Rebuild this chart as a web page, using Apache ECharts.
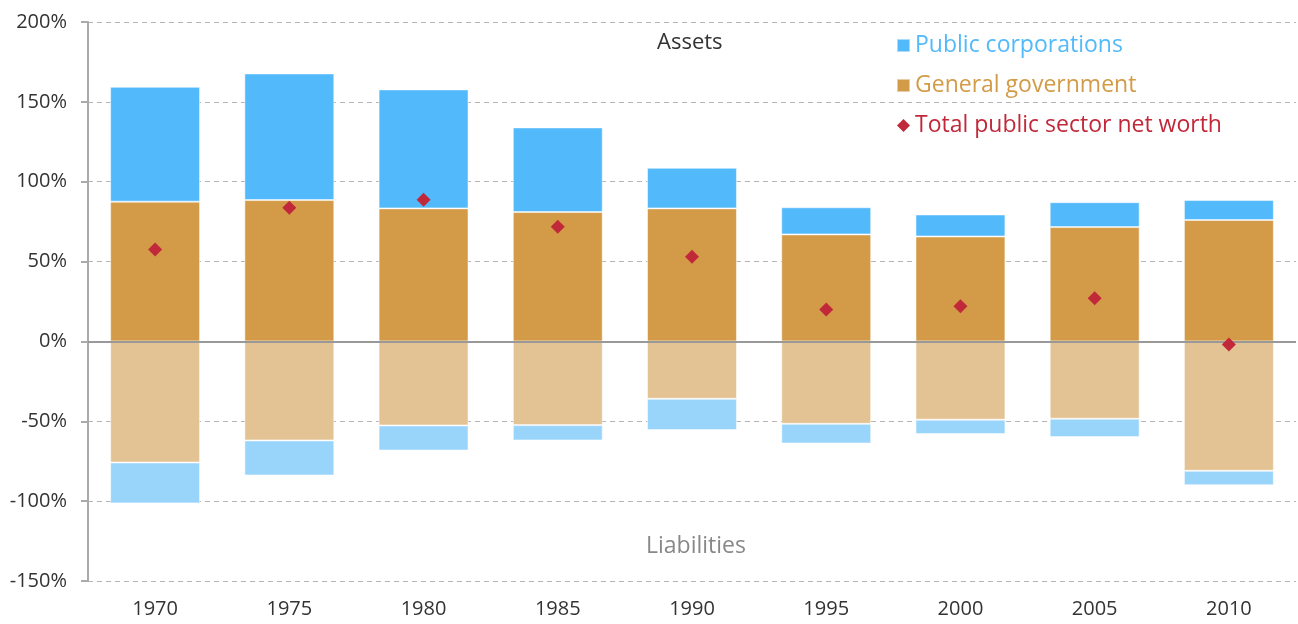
<!DOCTYPE html>
<html>
<head>
<meta charset="utf-8">
<script src="https://cdn.jsdelivr.net/npm/echarts@6/dist/echarts.min.js"></script>
<style>
    html, body { margin: 0; padding: 0; background: #fff; }
    #main { width: 1298px; height: 624px; }
</style>
</head>
<body>
<div id="main"></div>
<script>
    // years on the x axis
    const years = ['1970', '1975', '1980', '1985', '1990', '1995', '2000', '2005', '2010'];

    // assets, % of GDP (stacked upward)
    const govAssets = [87.5, 88.5, 83.3, 81, 83.3, 67, 65.7, 71.6, 76];
    const pubAssets = [71.9, 79.3, 74.5, 53, 25.4, 17, 13.8, 15.6, 12.5];

    // liabilities, % of GDP (stacked downward)
    const govLiab = [-75.8, -62, -52.6, -52.4, -35.9, -51.6, -49, -48.4, -81];
    const pubLiab = [-25.6, -21.9, -15.7, -9.6, -19.6, -12.3, -9, -11.5, -9];

    // total public sector net worth
    const netWorth = [57.6, 83.7, 88.7, 71.8, 53, 20, 22, 27, -1.9];

    const yTicks = { min: -150, max: 200, interval: 50 };

    const font = '"Open Sans", sans-serif';
    const colors = {
        pub: '#52B9FB',
        gov: '#D39B48',
        govLiab: '#E3C393',
        pubLiab: '#99D5FB',
        net: '#C1293A'
    };

    const chart = echarts.init(document.getElementById('main'));

    const barStyle = (c) => ({ color: c, borderColor: 'rgba(255,255,255,0.5)', borderWidth: 1 });

    const option = {
        animation: false,
        textStyle: { fontFamily: font },
        grid: { left: 88, right: 2, top: 22, bottom: 43 },
        legend: {
            orient: 'vertical',
            left: 891,
            top: 29,
            itemGap: 17,
            itemWidth: 13,
            itemHeight: 13,
            textStyle: { fontFamily: font, fontSize: 23 },
            data: [
                { name: 'Public corporations', icon: 'rect', textStyle: { color: colors.pub } },
                { name: 'General government', icon: 'rect', textStyle: { color: colors.gov } },
                { name: 'Total public sector net worth', icon: 'diamond', textStyle: { color: colors.net } }
            ]
        },
        xAxis: {
            type: 'category',
            data: years,
            axisLine: { show: false, onZero: false },
            axisTick: { show: false },
            axisLabel: { color: '#333', fontSize: 20, fontFamily: font, margin: 18 }
        },
        yAxis: {
            type: 'value',
            min: yTicks.min,
            max: yTicks.max,
            interval: yTicks.interval,
            axisLine: { show: true, lineStyle: { color: '#aaa', width: 2 } },
            axisTick: { show: true, length: 7, lineStyle: { color: '#aaa', width: 2 } },
            axisLabel: { color: '#333', fontSize: 20, fontFamily: font, margin: 21, formatter: '{value}%' },
            splitLine: { show: true, lineStyle: { color: '#b5b5b5', type: [5, 4], width: 1 } }
        },
        graphic: [
            {
                type: 'text', left: 657, top: 32,
                style: { text: 'Assets', fill: '#333', font: '22px ' + font }
            },
            {
                type: 'text', left: 646, top: 535,
                style: { text: 'Liabilities', fill: '#888', font: '23px ' + font }
            }
        ],
        series: [
            {
                name: 'General government', type: 'bar', stack: 'bs', barCategoryGap: '33%',
                itemStyle: barStyle(colors.gov), data: govAssets,
                markLine: {
                    silent: true, symbol: 'none', label: { show: false },
                    lineStyle: { color: '#999', type: 'solid', width: 2 },
                    data: [{ yAxis: 0 }]
                }
            },
            {
                name: 'Public corporations', type: 'bar', stack: 'bs',
                itemStyle: barStyle(colors.pub), data: pubAssets
            },
            {
                name: 'General government liabilities', type: 'bar', stack: 'bs',
                itemStyle: barStyle(colors.govLiab), data: govLiab
            },
            {
                name: 'Public corporations liabilities', type: 'bar', stack: 'bs',
                itemStyle: barStyle(colors.pubLiab), data: pubLiab
            },
            {
                name: 'Total public sector net worth', type: 'scatter', symbol: 'diamond',
                symbolSize: 14, z: 5,
                itemStyle: { color: colors.net, opacity: 1 }, data: netWorth
            }
        ]
    };

    chart.setOption(option);
</script>
</body>
</html>
